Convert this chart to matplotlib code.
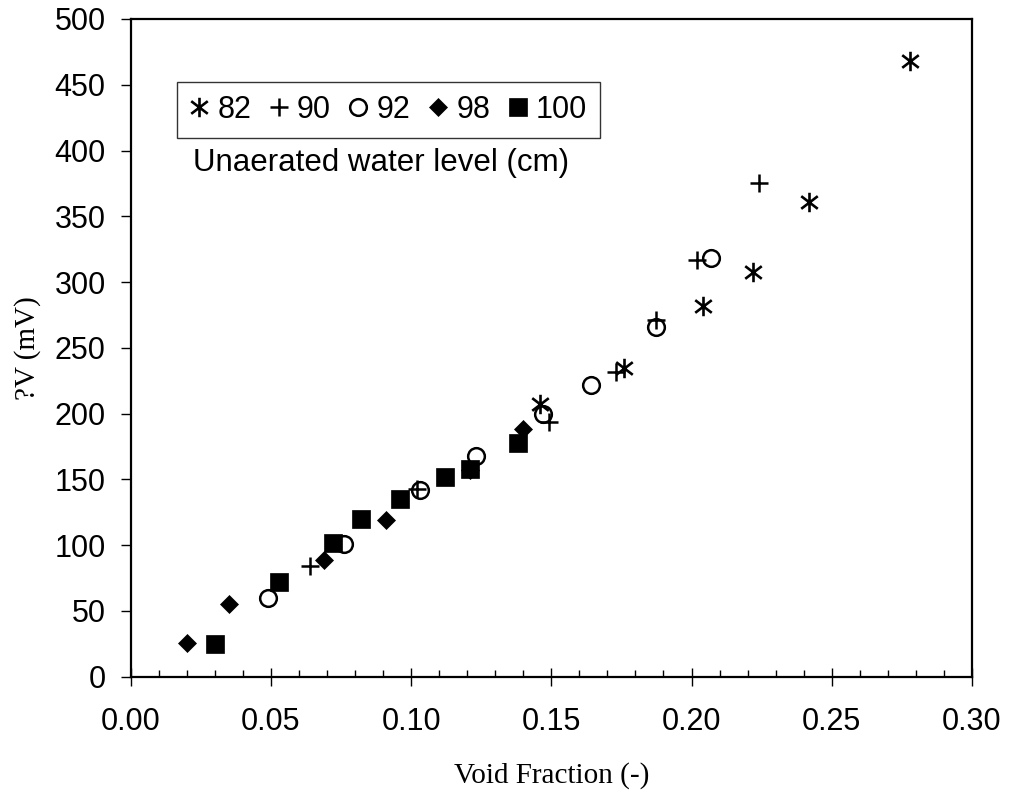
import numpy as np
import matplotlib.pyplot as plt
from matplotlib.path import Path
from matplotlib.ticker import MultipleLocator, FormatStrFormatter

# data
vf_82 = [0.146, 0.176, 0.204, 0.222, 0.242, 0.278]
dv_82 = [207, 235, 282, 308, 361, 468]

vf_90 = [0.064, 0.102, 0.149, 0.173, 0.1875, 0.202, 0.224]
dv_90 = [84, 143, 194, 232, 271, 317, 375]

vf_92 = [0.049, 0.076, 0.103, 0.123, 0.147, 0.164, 0.1875, 0.207]
dv_92 = [60, 101, 142, 168, 200, 222, 266, 318]

vf_98 = [0.020, 0.035, 0.069, 0.091, 0.121, 0.140]
dv_98 = [26, 55, 89, 119, 157, 188]

vf_100 = [0.030, 0.053, 0.072, 0.082, 0.096, 0.112, 0.121, 0.138]
dv_100 = [25, 72, 102, 120, 135, 152, 158, 178]

# Excel-like asterisk: vertical bar plus an X
ast = Path([(0, -1), (0, 1), (-0.85, -0.65), (0.85, 0.65), (-0.85, 0.65), (0.85, -0.65)],
           [Path.MOVETO, Path.LINETO, Path.MOVETO, Path.LINETO, Path.MOVETO, Path.LINETO])

sans = 'Liberation Sans'
serif = 'Liberation Serif'

fig = plt.figure(figsize=(10.09, 7.98), dpi=100)
ax = fig.add_axes([0.1295, 0.152, 0.8338, 0.8242])

ax.plot(vf_82, dv_82, ls='none', marker=ast, ms=14, mec='black', mfc='none', mew=1.9, label='82')
ax.plot(vf_90, dv_90, ls='none', marker='+', ms=13, mec='black', mew=1.8, label='90')
ax.plot(vf_92, dv_92, ls='none', marker='o', ms=12, mec='black', mfc='none', mew=1.8, label='92')
ax.plot(vf_98, dv_98, ls='none', marker='D', ms=9.5, mec='black', mfc='black', mew=0.5, label='98')
ax.plot(vf_100, dv_100, ls='none', marker='s', ms=13, mec='black', mfc='black', mew=0.5, label='100')

ax.set_xlim(0, 0.30)
ax.set_ylim(0, 500)
ax.xaxis.set_major_locator(MultipleLocator(0.05))
ax.xaxis.set_minor_locator(MultipleLocator(0.01))
ax.xaxis.set_major_formatter(FormatStrFormatter('%.2f'))
ax.yaxis.set_major_locator(MultipleLocator(50))

for s in ax.spines.values():
    s.set_linewidth(1.6)

ax.tick_params(axis='x', which='major', direction='inout', length=13, width=1, pad=15)
ax.tick_params(axis='x', which='minor', direction='in', length=5, width=1)
ax.tick_params(axis='y', which='major', direction='out', length=7, width=1, pad=11)
for lab in ax.get_xticklabels() + ax.get_yticklabels():
    lab.set_fontfamily(sans)
    lab.set_fontsize(22)

ax.set_xlabel('Void Fraction (-)', fontfamily=serif, fontsize=21, labelpad=18)
ax.set_ylabel('?V (mV)', fontfamily=serif, fontsize=21, labelpad=10)

leg = ax.legend(loc='upper left', bbox_to_anchor=(0.055, 0.904), ncol=5,
                prop={'family': sans, 'size': 22}, frameon=True, fancybox=False,
                handlelength=0.6, handletextpad=0.3, columnspacing=0.6,
                borderpad=0.42, borderaxespad=0, numpoints=1)
leg.get_frame().set_edgecolor('black')
leg.get_frame().set_linewidth(1)

ax.text(0.074, 0.781, 'Unaerated water level (cm)', transform=ax.transAxes,
        fontfamily=sans, fontsize=22.5, va='center', ha='left')

fig.savefig('out.png', dpi=100)
